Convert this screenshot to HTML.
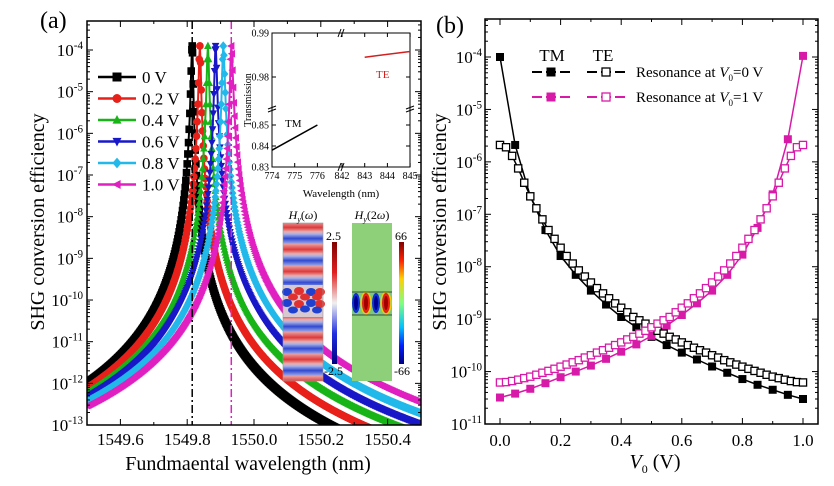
<!DOCTYPE html>
<html><head><meta charset="utf-8">
<style>
html,body{margin:0;padding:0;background:#fff;}
svg{display:block;font-family:"Liberation Serif",serif;}
</style></head>
<body>
<svg id="fig" width="834" height="486" viewBox="0 0 834 486" xmlns="http://www.w3.org/2000/svg">
<defs>
  <clipPath id="clipA"><rect x="87" y="21" width="334" height="404"/></clipPath>
  <linearGradient id="cbar1" x1="0" y1="0" x2="0" y2="1">
    <stop offset="0" stop-color="#800000"/><stop offset="0.25" stop-color="#e02020"/><stop offset="0.5" stop-color="#f0f0f0"/><stop offset="0.75" stop-color="#2030e0"/><stop offset="1" stop-color="#000080"/>
  </linearGradient>
  <linearGradient id="cbar2" x1="0" y1="0" x2="0" y2="1">
    <stop offset="0" stop-color="#800000"/><stop offset="0.15" stop-color="#ff2000"/><stop offset="0.3" stop-color="#ffd000"/><stop offset="0.5" stop-color="#80ff80"/><stop offset="0.7" stop-color="#00c0ff"/><stop offset="0.85" stop-color="#0020ff"/><stop offset="1" stop-color="#000080"/>
  </linearGradient>
  <linearGradient id="bandgrad" x1="0" y1="0" x2="0" y2="1">
    <stop offset="0" stop-color="#e8a0a0"/><stop offset="0.25" stop-color="#e03838"/><stop offset="0.45" stop-color="#e8b0b0"/><stop offset="0.55" stop-color="#a8b0e8"/><stop offset="0.75" stop-color="#3048d0"/><stop offset="1" stop-color="#a8b0e8"/>
  </linearGradient>
  <pattern id="bands" x="283" y="222" width="40" height="22" patternUnits="userSpaceOnUse">
    <rect width="40" height="22" fill="url(#bandgrad)"/>
  </pattern>
</defs>
<g id="panelA"></g>
<g id="panelB"></g>
</svg>
<script>
// ---------- Panel (a) data ----------
const aVoltages = ["0 V","0.2 V","0.4 V","0.6 V","0.8 V","1.0 V"];
const aCenters = [1549.815, 1549.838, 1549.862, 1549.885, 1549.908, 1549.932];
const aPeaks = [1.25e-4, 1.25e-4, 1.25e-4, 1.25e-4, 1.25e-4, 1.25e-4];
const aWidthLeft = [0.003, 0.003, 0.003, 0.003, 0.003, 0.003];
const aWidthRight = [0.0022, 0.0026, 0.003, 0.0033, 0.0037, 0.0041];
const aXTicks = [1549.6, 1549.8, 1550.0, 1550.2, 1550.4];
const aYExps = [-4,-5,-6,-7,-8,-9,-10,-11,-12,-13];
const insetTM = [[774,0.838],[776,0.850]];
const insetTE = [[843,0.9845],[845,0.9858]];
// ---------- Panel (b) data ----------
const bVtm = [0,0.05,0.1,0.15,0.2,0.25,0.3,0.35,0.4,0.45,0.5,0.55,0.6,0.65,0.7,0.75,0.8,0.85,0.9,0.95,1.0];
const bTM0 = [1e-4,2.1e-6,2.2e-7,5e-8,1.6e-8,7e-9,3.5e-9,1.9e-9,1.1e-9,7e-10,4.6e-10,3.2e-10,2.3e-10,1.7e-10,1.25e-10,9.5e-11,7.2e-11,5.6e-11,4.5e-11,3.6e-11,3e-11];
const bTM1 = [3.2e-11,3.8e-11,4.7e-11,6e-11,7.8e-11,1e-10,1.3e-10,1.75e-10,2.4e-10,3.3e-10,4.8e-10,7.5e-10,1.2e-9,2e-9,3.5e-9,7e-9,1.7e-8,5.5e-8,2.4e-7,2.7e-6,1.05e-4];
const bVte = [0,0.02,0.04,0.06,0.08,0.1,0.12,0.14,0.16,0.18,0.2,0.22,0.24,0.26,0.28,0.3,0.32,0.34,0.36,0.38,0.4,0.42,0.44,0.46,0.48,0.5,0.52,0.54,0.56,0.58,0.6,0.62,0.64,0.66,0.68,0.7,0.72,0.74,0.76,0.78,0.8,0.82,0.84,0.86,0.88,0.9,0.92,0.94,0.96,0.98,1.0];
const bTE0 = [2.1e-6,1.9e-6,1.3e-6,7.5e-7,4e-7,2.2e-7,1.3e-7,8e-8,5e-8,3.4e-8,2.3e-8,1.6e-8,1.15e-8,8.5e-9,6.5e-9,5e-9,3.9e-9,3.1e-9,2.5e-9,2e-9,1.65e-9,1.35e-9,1.1e-9,9.5e-10,8.2e-10,7e-10,6e-10,5.3e-10,4.6e-10,4.1e-10,3.6e-10,3.2e-10,2.85e-10,2.55e-10,2.3e-10,2.05e-10,1.85e-10,1.65e-10,1.5e-10,1.36e-10,1.24e-10,1.13e-10,1.03e-10,9.5e-11,8.7e-11,8e-11,7.5e-11,7e-11,6.6e-11,6.3e-11,6.2e-11];
const bTE1 = [6.2e-11,6.3e-11,6.6e-11,7e-11,7.5e-11,8e-11,8.7e-11,9.5e-11,1.03e-10,1.13e-10,1.24e-10,1.36e-10,1.5e-10,1.65e-10,1.85e-10,2.05e-10,2.3e-10,2.55e-10,2.85e-10,3.2e-10,3.6e-10,4.1e-10,4.6e-10,5.3e-10,6e-10,7e-10,8.2e-10,9.5e-10,1.1e-9,1.35e-9,1.65e-9,2e-9,2.5e-9,3.1e-9,3.9e-9,5e-9,6.5e-9,8.5e-9,1.15e-8,1.6e-8,2.3e-8,3.4e-8,5e-8,8e-8,1.3e-7,2.2e-7,4e-7,7.5e-7,1.3e-6,1.9e-6,2.1e-6];
const bXTicks = [0,0.2,0.4,0.6,0.8,1.0];
const bYExps = [-4,-5,-6,-7,-8,-9,-10,-11];

const NS="http://www.w3.org/2000/svg";
function mk(tag, attrs, parent){const e=document.createElementNS(NS,tag);for(const k in attrs)e.setAttribute(k,attrs[k]);if(parent)parent.appendChild(e);return e;}
function txt(parent,x,y,s,size,anchor,extra){const t=mk('text',Object.assign({x:x,y:y,'font-size':size,'text-anchor':anchor||'start',fill:'#000'},extra||{}),parent);t.textContent=s;return t;}
function powLabel(parent,x,y,exp,size){
  const t=mk('text',{x:x,y:y,'font-size':size,'text-anchor':'end',fill:'#000'},parent);
  const a=mk('tspan',{},t);a.textContent='10';
  const b=mk('tspan',{dy:-7,'font-size':size*0.65},t);b.textContent=String(exp);
  return t;
}
const colors=["#000000","#e8201a","#18b418","#1818c8","#22b8ea","#e020c0"];
const shapes=["square","circle","up","down","diamond","left"];
function marker(parent,shape,x,y,r,fill,stroke){
  let e;
  if(shape==="square") e=mk('rect',{x:x-r,y:y-r,width:2*r,height:2*r},parent);
  else if(shape==="circle") e=mk('circle',{cx:x,cy:y,r:r},parent);
  else{
    let p;
    if(shape==="up") p=[[x,y-r*1.1],[x+r,y+r*0.8],[x-r,y+r*0.8]];
    else if(shape==="down") p=[[x,y+r*1.1],[x+r,y-r*0.8],[x-r,y-r*0.8]];
    else if(shape==="left") p=[[x-r*1.1,y],[x+r*0.8,y-r],[x+r*0.8,y+r]];
    else p=[[x,y-r*1.2],[x+r,y],[x,y+r*1.2],[x-r,y]];
    e=mk('polygon',{points:p.map(q=>q.join(',')).join(' ')},parent);
  }
  e.setAttribute('fill',fill);
  if(stroke){e.setAttribute('stroke',stroke);e.setAttribute('stroke-width',1.3);}
  return e;
}

// ================= PANEL A =================
const A=document.getElementById('panelA');
const aL=87,aR=421,aT=21,aB=425,aX0=1549.5,aX1=1550.5,aYtop=-4,aDec=41.67,aY4=50;
const ax=v=>aL+(v-aX0)/(aX1-aX0)*(aR-aL);
const ay=v=>aY4+(aYtop-Math.log10(v))*aDec;

const series=mk('g',{'clip-path':'url(#clipA)'},A);


for(let i=0;i<aVoltages.length;i++){
  const g=mk('g',{},series);
  
  
  const f=l=>{const d=l-aCenters[i];const w=d<0?aWidthLeft[i]:aWidthRight[i];return aPeaks[i]/Math.pow(1+(d/w)*(d/w),2);};
  let pts=[];
  for(let l=aX0;l<=aX1+1e-9;l+=0.002){pts.push([ax(l),ay(f(l))]);}
  pts.push([ax(aCenters[i]),ay(aPeaks[i])]);
  pts.sort((p,q)=>p[0]-q[0]);
  mk('polyline',{points:pts.map(p=>p[0].toFixed(1)+','+p[1].toFixed(1)).join(' '),fill:'none',stroke:colors[i],'stroke-width':2},g);
  for(const p of pts){marker(g,shapes[i],p[0],p[1],3.8,colors[i]);}
}
const v1=mk('line',{x1:ax(aCenters[0]),x2:ax(aCenters[0]),y1:aT,y2:aB,stroke:'#000','stroke-width':1.5,'stroke-dasharray':'8,3,2,3'},A);

const v2=mk('line',{x1:ax(aCenters[5]),x2:ax(aCenters[5]),y1:aT,y2:aB,stroke:'#e020c0','stroke-width':1.5,'stroke-dasharray':'8,3,2,3'},A);


const fa=mk('rect',{x:aL,y:aT,width:aR-aL,height:aB-aT,fill:'none',stroke:'#000','stroke-width':1.5},A);

const ta=mk('g',{stroke:'#000','stroke-width':1},A);

for(let v=1549.5;v<=1550.5001;v+=0.1){const x=ax(v);const big=Math.abs(Math.round(v*10)%2)===0;const L=big?6:3;
  mk('line',{x1:x,x2:x,y1:aB,y2:aB-L},ta);mk('line',{x1:x,x2:x,y1:aT,y2:aT+L},ta);}
for(let e=-13;e<=-4;e++){const y=ay(Math.pow(10,e));
  mk('line',{x1:aL,x2:aL+6,y1:y,y2:y},ta);mk('line',{x1:aR,x2:aR-6,y1:y,y2:y},ta);
  for(let k=2;k<10;k++){const yy=ay(k*Math.pow(10,e));if(yy<aT)continue;mk('line',{x1:aL,x2:aL+3,y1:yy,y2:yy},ta);mk('line',{x1:aR,x2:aR-3,y1:yy,y2:yy},ta);}
}
const xla=mk('g',{},A);
aXTicks.forEach(v=>txt(xla,ax(v),445,v.toFixed(1),17,'middle'));
const yla=mk('g',{},A);
aYExps.forEach(e=>powLabel(yla,83,ay(Math.pow(10,e))+6,e,17));
const xta=txt(A,248,470,'Fundmaental wavelength (nm)',20,'middle');

const yta=txt(A,0,0,'SHG conversion efficiency',20,'middle',{transform:'translate(44,222) rotate(-90)'});

const pla=txt(A,40,28,'(a)',24,'start');

const lega=mk('g',{},A);
aVoltages.forEach((s,i)=>{
  const y=77+i*21.5;
  const g=mk('g',{},lega);
  
  
  mk('line',{x1:98,x2:136,y1:y,y2:y,stroke:colors[i],'stroke-width':2.5},g);
  marker(g,shapes[i],117,y,4.5,colors[i]);
  txt(g,142,y+6,s,17,'start');
});

// inset transmission
const ins=mk('g',{},A);
const iL=272,iR=410,iT=33,iB=167;
mk('rect',{x:iL,y:iT,width:iR-iL,height:iB-iT,fill:'#fff',stroke:'#000','stroke-width':1},ins);
const ix=v=>v<800? iL+(v-774)*22.7 : 342+(v-842)*22.7;
const iy=v=>v>0.9? iT+(0.99-v)/0.01*44 : iB-(v-0.83)/0.01*21;
const ixt=[774,775,776,842,843,844,845];
ixt.forEach(v=>{const x=ix(v);mk('line',{x1:x,x2:x,y1:iB,y2:iB-4,stroke:'#000'},ins);mk('line',{x1:x,x2:x,y1:iT,y2:iT+4,stroke:'#000'},ins);txt(ins,x,iB+12,String(v),10,'middle');});
[0.99,0.98,0.85,0.84,0.83].forEach(v=>{const y=iy(v);mk('line',{x1:iL,x2:iL+4,y1:y,y2:y,stroke:'#000'},ins);mk('line',{x1:iR,x2:iR-4,y1:y,y2:y,stroke:'#000'},ins);txt(ins,iL-3,y+3.5,v.toFixed(2),10,'end');});
[[340,iT],[340,iB]].forEach(p=>{mk('line',{x1:p[0]-2,x2:p[0]+1,y1:p[1]+4,y2:p[1]-4,stroke:'#000'},ins);mk('line',{x1:p[0]+1,x2:p[0]+4,y1:p[1]+4,y2:p[1]-4,stroke:'#000'},ins);});
[[iL,108],[iR,108]].forEach(p=>{mk('line',{x1:p[0]-4,x2:p[0]+4,y1:p[1]+1,y2:p[1]-2,stroke:'#000'},ins);mk('line',{x1:p[0]-4,x2:p[0]+4,y1:p[1]+4,y2:p[1]+1,stroke:'#000'},ins);});
const tmL=mk('polyline',{points:insetTM.map(p=>ix(p[0])+','+iy(p[1])).join(' '),fill:'none',stroke:'#000','stroke-width':1.5},ins);

const teL=mk('polyline',{points:insetTE.map(p=>ix(p[0])+','+iy(p[1])).join(' '),fill:'none',stroke:'#d02020','stroke-width':1.5},ins);

txt(ins,285,127,'TM',11,'start');
txt(ins,376,78,'TE',11,'start',{fill:'#d02020'});
txt(ins,341,197,'Wavelength (nm)',11,'middle');
txt(ins,0,0,'Transmission',10,'middle',{transform:'translate(251,100) rotate(-90)'});

// field maps
const fm=mk('g',{},A);
const f1=mk('g',{},fm);
mk('rect',{x:283,y:223,width:40,height:158,fill:'url(#bands)'},f1);
mk('rect',{x:283,y:285,width:40,height:32,fill:'#d8c8d0'},f1);
[[287,292],[299,291],[311,292],[323,292],[287,303],[299,304],[311,303],[323,304]].forEach((p,k)=>mk('ellipse',{cx:Math.min(p[0],320),cy:p[1],rx:5,ry:4,fill:k%2?'#e03030':'#2040d0'},f1));
[[293,297],[305,297],[317,297],[293,310],[305,309],[317,310]].forEach((p,k)=>mk('ellipse',{cx:p[0],cy:p[1],rx:5,ry:3.5,fill:k<3?'#e03030':'#2040d0'},f1));
mk('rect',{x:283,y:223,width:40,height:158,fill:'none',stroke:'#999','stroke-width':0.6},f1);
mk('rect',{x:332,y:242,width:5,height:122,fill:'url(#cbar1)'},f1);
txt(f1,326,240,'2.5',12,'start');txt(f1,324,375,'-2.5',12,'start');
const t1=txt(f1,303,219,'',12,'middle');t1.innerHTML='<tspan font-style="italic">H</tspan><tspan font-style="italic" font-size="8" dy="3">y</tspan><tspan dy="-3">(</tspan><tspan font-style="italic">ω</tspan>)';
const f2=mk('g',{},fm);
mk('rect',{x:352,y:223,width:40,height:158,fill:'#8ed07a'},f2);
mk('rect',{x:352,y:292,width:40,height:23,fill:'#7cc880'},f2);
[['#1030d0',356],['#e82010',366],['#1030d0',376],['#e82010',386]].forEach(c=>{mk('ellipse',{cx:c[1],cy:303,rx:4,ry:10,fill:c[0]},f2);mk('ellipse',{cx:c[1],cy:303,rx:2,ry:7,fill:c[0]==='#e82010'?'#a00000':'#000090'},f2);});
mk('ellipse',{cx:366,cy:303,rx:5,ry:11,fill:'none',stroke:'#f0d000','stroke-width':1.2},f2);
mk('ellipse',{cx:386,cy:303,rx:5,ry:11,fill:'none',stroke:'#f0d000','stroke-width':1.2},f2);
mk('line',{x1:352,x2:392,y1:292,y2:292,stroke:'#222','stroke-width':0.7},f2);
mk('line',{x1:352,x2:392,y1:315,y2:315,stroke:'#222','stroke-width':0.7},f2);
mk('rect',{x:399,y:242,width:5,height:122,fill:'url(#cbar2)'},f2);
txt(f2,395,240,'66',12,'start');txt(f2,394,375,'-66',12,'start');
const t2=txt(f2,372,219,'',12,'middle');t2.innerHTML='<tspan font-style="italic">H</tspan><tspan font-style="italic" font-size="8" dy="3">y</tspan><tspan dy="-3">(2</tspan><tspan font-style="italic">ω</tspan>)';

// ================= PANEL B =================
const B=document.getElementById('panelB');
const bL=485,bR=818,bT=19,bB=424;
const bx=v=>500+v*303;
const by=v=>57+(-4-Math.log10(v))*52.43;
const fb=mk('rect',{x:bL,y:bT,width:bR-bL,height:bB-bT,fill:'none',stroke:'#000','stroke-width':1.5},B);

const tb=mk('g',{stroke:'#000','stroke-width':1},B);
for(let i=0;i<=10;i++){const x=bx(i/10);const L=i%2===0?6:3;mk('line',{x1:x,x2:x,y1:bB,y2:bB-L},tb);mk('line',{x1:x,x2:x,y1:bT,y2:bT+L},tb);}
for(let e=-11;e<=-4;e++){const y=by(Math.pow(10,e));mk('line',{x1:bL,x2:bL+6,y1:y,y2:y},tb);mk('line',{x1:bR,x2:bR-6,y1:y,y2:y},tb);
  for(let k=2;k<10;k++){const yy=by(k*Math.pow(10,e));if(yy<bT)continue;mk('line',{x1:bL,x2:bL+3,y1:yy,y2:yy},tb);mk('line',{x1:bR,x2:bR-3,y1:yy,y2:yy},tb);}}
const xlb=mk('g',{},B);
bXTicks.forEach(v=>txt(xlb,bx(v),446,v.toFixed(1),17,'middle'));
const ylb=mk('g',{},B);
bYExps.forEach(e=>powLabel(ylb,482,by(Math.pow(10,e))+6,e,17));
const xtb=txt(B,655,468,'',20,'middle');xtb.innerHTML='<tspan font-style="italic">V</tspan><tspan font-size="12" dy="5">0</tspan><tspan dy="-5"> (V)</tspan>';

const ytb=txt(B,0,0,'SHG conversion efficiency',20,'middle',{transform:'translate(446,222) rotate(-90)'});

const plb=txt(B,436,33,'(b)',24,'start');

function seriesB(name,xs,ys,color,open){
  const g=mk('g',{},B);
  
  
  mk('polyline',{points:xs.map((v,i)=>bx(v)+','+by(ys[i])).join(' '),fill:'none',stroke:color,'stroke-width':1.5},g);
  xs.forEach((v,i)=>{marker(g,'square',bx(v),by(ys[i]),open?3.6:4,open?'#fff':color,open?color:null);});
}
seriesB('tm-0v',bVtm,bTM0,'#000',false);
seriesB('tm-1v',bVtm,bTM1,'#d81aa8',false);
seriesB('te-0v',bVte,bTE0,'#000',true);
seriesB('te-1v',bVte,bTE1,'#d81aa8',true);

const legb=mk('g',{},B);
txt(legb,552,61,'TM',17,'middle');txt(legb,603,61,'TE',17,'middle');
[['#000',72,'0'],['#d81aa8',97,'1']].forEach(r=>{
  const g=mk('g',{},legb);
  
  
  mk('line',{x1:532,x2:570,y1:r[1],y2:r[1],stroke:r[0],'stroke-width':2,'stroke-dasharray':'10,4'},g);
  marker(g,'square',551,r[1],4.5,r[0]);
  mk('line',{x1:587,x2:625,y1:r[1],y2:r[1],stroke:r[0],'stroke-width':2,'stroke-dasharray':'10,4'},g);
  marker(g,'square',606,r[1],4,'#fff',r[0]);
  const t=txt(g,636,r[1]+5,'',15,'start');
  t.innerHTML='Resonance at <tspan font-style="italic">V</tspan><tspan font-size="9" dy="4">0</tspan><tspan dy="-4">='+r[2]+' V</tspan>';
});
</script>
</body></html>
